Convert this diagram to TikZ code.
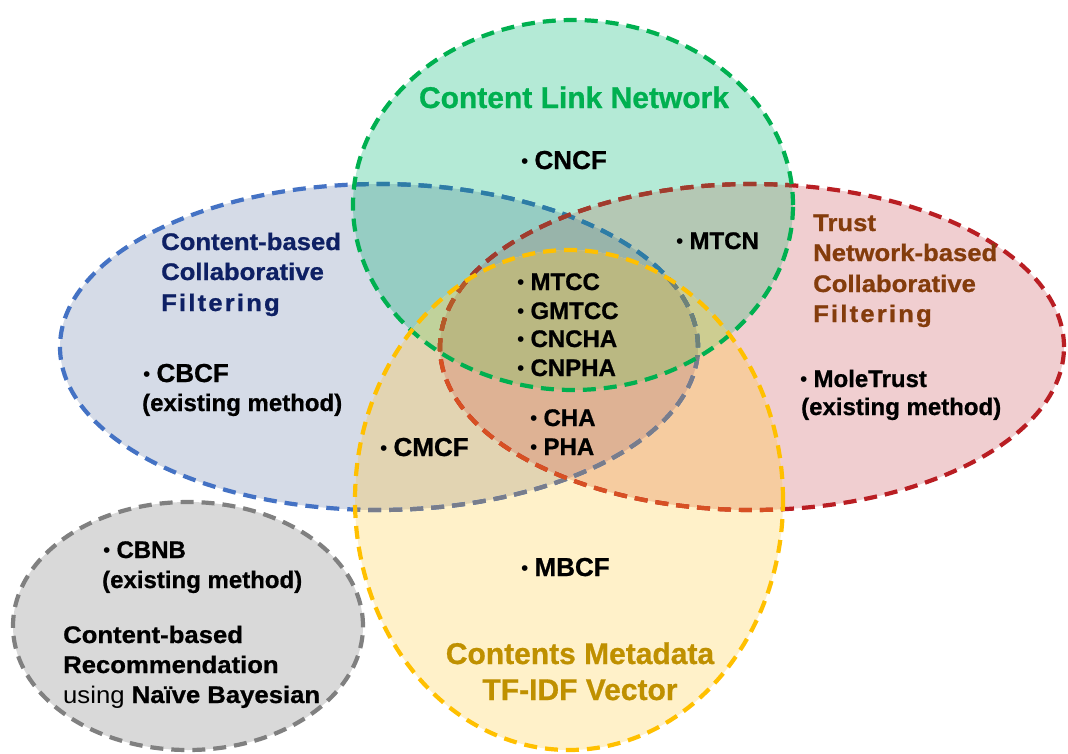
\documentclass[tikz,border=0pt]{standalone}
\usepackage{fontspec}
\setmainfont{Liberation Sans}[BoldFeatures={FakeBold=0.8}]
\newfontfamily\widefont{Liberation Sans}[FakeStretch=1.07, BoldFeatures={FakeBold=0.8}]
\definecolor{cB}{RGB}{213,219,231}
\definecolor{cR}{RGB}{240,206,208}
\definecolor{cG}{RGB}{180,234,214}
\definecolor{cY}{RGB}{255,241,201}
\definecolor{cBR}{RGB}{201,175,188}
\definecolor{cBG}{RGB}{150,205,195}
\definecolor{cRG}{RGB}{180,200,180}
\definecolor{cBY}{RGB}{226,212,178}
\definecolor{cRY}{RGB}{246,204,160}
\definecolor{cGY}{RGB}{200,225,175}
\definecolor{cBRG}{RGB}{152,180,170}
\definecolor{cBGY}{RGB}{192,210,155}
\definecolor{cRGY}{RGB}{205,205,145}
\definecolor{cBRY}{RGB}{222,178,148}
\definecolor{cBRGY}{RGB}{186,184,130}
\definecolor{grfill}{RGB}{217,217,217}
\definecolor{gline}{RGB}{0,176,80}
\definecolor{bline}{RGB}{68,114,196}
\definecolor{blineG}{RGB}{45,125,165}
\definecolor{blineY}{RGB}{120,125,140}
\definecolor{blineGY}{RGB}{110,130,120}
\definecolor{rline}{RGB}{185,30,35}
\definecolor{rlineG}{RGB}{160,60,45}
\definecolor{rlineY}{RGB}{215,80,35}
\definecolor{rlineGY}{RGB}{180,90,40}
\definecolor{yline}{RGB}{255,192,0}
\definecolor{grline}{RGB}{128,128,128}
\definecolor{gtext}{RGB}{0,176,80}
\definecolor{btext}{RGB}{14,32,100}
\definecolor{rtext}{RGB}{132,60,12}
\definecolor{ytext}{RGB}{191,144,0}
\newcommand\bul{\raisebox{1pt}{\fontsize{21pt}{21pt}\selectfont\mdseries •}\hspace{6pt}}
\def\pB{(379,347) ellipse [x radius=319pt, y radius=163pt]}
\def\pR{(752,347) ellipse [x radius=312pt, y radius=163pt]}
\def\pG{(573,205) ellipse [x radius=220pt, y radius=185pt]}
\def\pY{(569,500) ellipse [x radius=214pt, y radius=250pt]}
\begin{document}
\begin{tikzpicture}[x=1pt,y=-1pt,
  vdash/.style={dash pattern=on 13pt off 8pt, line width=4.2pt},
  txt/.style={inner sep=0pt, anchor=base west, font=\bfseries\fontsize{#1pt}{#1pt}\selectfont},
  wtxt/.style={inner sep=0pt, anchor=base west, font=\widefont\bfseries\fontsize{#1pt}{#1pt}\selectfont},
  ctxt/.style={inner sep=0pt, anchor=base, font=\bfseries\fontsize{#1pt}{#1pt}\selectfont}]
\useasboundingbox (0,0) rectangle (1068,753);
\fill[white] (0,0) rectangle (1068,753);
% single sets
\fill[cB] \pB;
\fill[cR] \pR;
\fill[cG] \pG;
\fill[cY] \pY;
% pairs
\begin{scope}\clip \pB; \fill[cBR] \pR; \end{scope}
\begin{scope}\clip \pB; \fill[cBG] \pG; \end{scope}
\begin{scope}\clip \pR; \fill[cRG] \pG; \end{scope}
\begin{scope}\clip \pB; \fill[cBY] \pY; \end{scope}
\begin{scope}\clip \pR; \fill[cRY] \pY; \end{scope}
\begin{scope}\clip \pG; \fill[cGY] \pY; \end{scope}
% triples
\begin{scope}\clip \pB; \clip \pR; \fill[cBRG] \pG; \end{scope}
\begin{scope}\clip \pB; \clip \pG; \fill[cBGY] \pY; \end{scope}
\begin{scope}\clip \pR; \clip \pG; \fill[cRGY] \pY; \end{scope}
\begin{scope}\clip \pB; \clip \pR; \fill[cBRY] \pY; \end{scope}
% all four
\begin{scope}\clip \pB; \clip \pR; \clip \pG; \fill[cBRGY] \pY; \end{scope}
% blue and red outlines, shaded where covered
\draw[bline, vdash] \pB;
\draw[rline, vdash] \pR;
\begin{scope}\clip \pG; \draw[blineG, vdash] \pB; \draw[rlineG, vdash] \pR; \end{scope}
\begin{scope}\clip \pY; \draw[blineY, vdash] \pB; \draw[rlineY, vdash] \pR; \end{scope}
\begin{scope}\clip \pG; \clip \pY; \draw[blineGY, vdash] \pB; \draw[rlineGY, vdash] \pR; \end{scope}
% green and yellow outlines on top
\draw[gline, vdash] \pG;
\draw[yline, vdash] \pY;
% gray set
\path[fill=grfill, draw=grline, vdash] (188,626) ellipse [x radius=175pt, y radius=124pt];

% titles
\node[ctxt=30, text=gtext] (tcln) at (574,108) {Content Link Network};
\node[wtxt=24, text=btext] (tb1) at (161,250) {Content-based};
\node[wtxt=24, text=btext] (tb2) at (161,280) {Collaborative};
\node[wtxt=24, text=btext] (tb3) at (161,311) {\addfontfeatures{LetterSpace=9}Filtering};
\node[wtxt=24, text=rtext] (tr1) at (813,231) {Trust};
\node[wtxt=24, text=rtext] (tr2) at (813,261) {Network-based};
\node[wtxt=24, text=rtext] (tr3) at (813,292) {Collaborative};
\node[wtxt=24, text=rtext] (tr4) at (813,322) {\addfontfeatures{LetterSpace=9}Filtering};
\node[ctxt=30, text=ytext] (ty1) at (580,664) {Contents Metadata};
\node[ctxt=30, text=ytext] (ty2) at (580,700) {TF-IDF Vector};
\node[wtxt=24] (tg1) at (63,643) {Content-based};
\node[wtxt=24] (tg2) at (63,673) {Recommendation};
\node[wtxt=24] (tg3) at (63,703) {\mdseries using \bfseries Naïve Bayesian};

% items
\node[txt=26] (cncf) at (521,169) {\bul CNCF};
\node[txt=24] (mtcn) at (676,249) {\bul MTCN};
\node[txt=24] (mtcc) at (517,290) {\bul MTCC};
\node[txt=24] (gmtcc) at (517,319) {\bul GMTCC};
\node[txt=24] (cncha) at (517,347) {\bul CNCHA};
\node[txt=24] (cnpha) at (517,376) {\bul CNPHA};
\node[txt=24] (cha) at (530,426) {\bul CHA};
\node[txt=24] (pha) at (530,455) {\bul PHA};
\node[txt=26] (cmcf) at (380,456) {\bul CMCF};
\node[txt=26] (mbcf) at (521,576) {\bul MBCF};
\node[txt=26] (cbcf) at (143,382) {\bul CBCF};
\node[txt=24] (cbcfe) at (142,411) {(existing method)};
\node[txt=24] (mole) at (800,387) {\bul MoleTrust};
\node[txt=24] (molee) at (801,415) {(existing method)};
\node[txt=24] (cbnb) at (103,558) {\bul CBNB};
\node[txt=24] (cbnbe) at (102,588) {(existing method)};
\end{tikzpicture}
\end{document}
